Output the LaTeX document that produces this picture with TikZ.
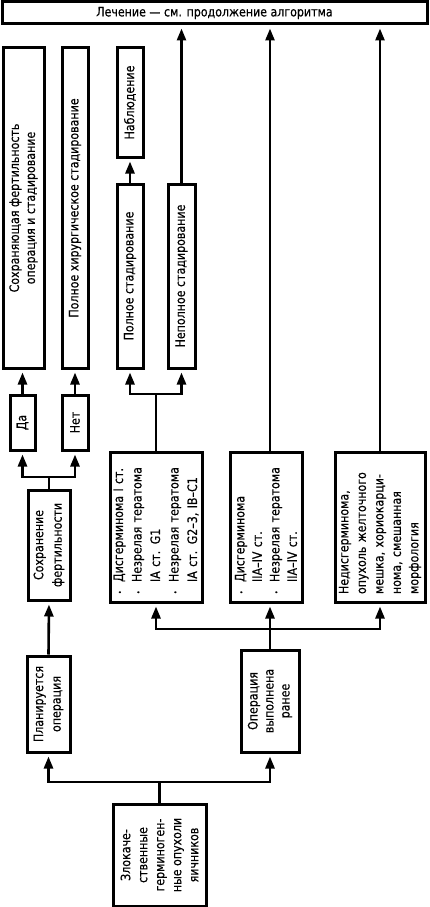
\documentclass[tikz,border=0pt]{standalone}
\usepackage{fontspec}
\setmainfont{DejaVu Sans}[FakeStretch=0.85,FakeBold=0.4]
\usetikzlibrary{arrows.meta}

\newcommand\itm{\makebox[12pt][l]{\raisebox{0.5pt}{\fontsize{7}{7}\selectfont\textbullet}}}
\newcommand\ind{\hspace*{12pt}}

\tikzset{
  box/.style={draw, line width=3pt, inner xsep=4pt, inner ysep=1pt,
    font=\fontsize{13}{17.5}\selectfont},
  vbox/.style={box, rotate=90, align=center},
  listbox/.style={box, rotate=90, align=left, inner xsep=8pt},
  link/.style={line width=2.6pt},
  arr/.style={link, -{Triangle[length=12pt,width=9pt]}, shorten >=3pt},
}

\begin{document}
\begin{tikzpicture}[x=1pt,y=1pt,yscale=-1,xscale=1]
\useasboundingbox (0,0) rectangle (429,907);

%Shape: Rectangle
\node[box, minimum width=425pt, minimum height=22pt] (head) at (214.5,13) {Лечение --- см. продолжение алгоритма};

%Shape: Rectangle
\node[vbox, minimum width=320pt, minimum height=41pt, font=\fontsize{13}{16}\selectfont] (keep) at (23.5,208) {Сохраняющая фертильность\\операция и стадирование};
%Shape: Rectangle
\node[vbox, minimum width=320pt, minimum height=26pt] (fullsurg) at (75,208) {Полное хирургическое стадирование};
%Shape: Rectangle
\node[vbox, minimum width=109pt, minimum height=26pt] (observ) at (130,102.5) {Наблюдение};
%Shape: Rectangle
\node[vbox, minimum width=184pt, minimum height=26pt] (fullstage) at (130,276) {Полное стадирование};
%Shape: Rectangle
\node[vbox, minimum width=184pt, minimum height=27pt] (partstage) at (181.5,276) {Неполное стадирование};

%Shape: Rectangle
\node[vbox, minimum width=55pt, minimum height=25pt] (yes) at (22.5,422.5) {Да};
%Shape: Rectangle
\node[vbox, minimum width=55pt, minimum height=26pt] (no) at (75,422.5) {Нет};
%Shape: Rectangle
\node[vbox, minimum width=110pt, minimum height=42pt, font=\fontsize{13}{18.5}\selectfont] (fert) at (49,545) {Сохранение\\фертильности};

%Shape: Rectangle
\node[listbox, text width=134pt, minimum height=92pt, font=\fontsize{13}{18.5}\selectfont] (grp1) at (156,527)
  {\itm Дисгерминома I ст.\\ \itm Незрелая тератома\\ \ind IA ст. G1\\ \itm Незрелая тератома\\ \ind IA ст. G2--3, IB--C1};
%Shape: Rectangle
\node[listbox, text width=134pt, minimum height=72pt] (grp2) at (266,527)
  {\itm Дисгерминома\\ \ind IIA--IV ст.\\ \itm Незрелая тератома\\ \ind IIA--IV ст.};
%Shape: Rectangle
\node[listbox, text width=134pt, minimum height=90pt] (grp3) at (380,527)
  {Недисгерминома,\\ опухоль желточного\\ мешка, хориокарци-\\ нома, смешанная\\ морфология};

%Shape: Rectangle
\node[vbox, minimum width=96pt, minimum height=43pt] (plan) at (48.5,704) {Планируется\\операция};
%Shape: Rectangle
\node[vbox, minimum width=102pt, minimum height=58pt, font=\fontsize{13}{16}\selectfont] (opdone) at (270,701) {Операция\\выполнена\\ранее};
%Shape: Rectangle
\node[vbox, minimum width=102pt, minimum height=93pt, font=\fontsize{13}{17}\selectfont] (start) at (159.5,855) {Злокаче-\\ственные\\герминоген-\\ные опухоли\\яичников};

%Junctions
\coordinate (jstart) at (159.5,782);
\coordinate (jfert) at (49,477);
\coordinate (jop) at (270,629);
\coordinate (jgrp) at (156,394);

%Straight Lines
\draw[link] (start.east) -- (jstart);
\draw[arr] (jstart) -| (plan.west);
\draw[arr] (jstart) -| (opdone.west);
%Straight Lines
\draw[arr] (plan.east) -- (fert.west);
\draw[link] (fert.east) -- (jfert);
\draw[arr] (jfert) -| (yes.west);
\draw[arr] (jfert) -| (no.west);
\draw[arr] (yes.east) -- (yes.east |- keep.west);
\draw[arr] (no.east) -- (fullsurg.west);
%Straight Lines
\draw[link] (opdone.east) -- (jop);
\draw[arr] (jop) -| (grp1.west);
\draw[arr] (jop) -- (jop |- grp2.west);
\draw[arr] (jop) -| (grp3.west);
%Straight Lines
\draw[link] (grp1.east) -- (jgrp);
\draw[arr] (jgrp) -| (fullstage.west);
\draw[arr] (jgrp) -| (partstage.west);
\draw[arr] (fullstage.east) -- (observ.west);
%Straight Lines
\draw[arr] (partstage.east) -- (partstage.east |- head.south);
\draw[arr] (grp2.east -| jop) -- (jop |- head.south);
\draw[arr] (grp3.east) -- (grp3.east |- head.south);

\end{tikzpicture}
\end{document}
